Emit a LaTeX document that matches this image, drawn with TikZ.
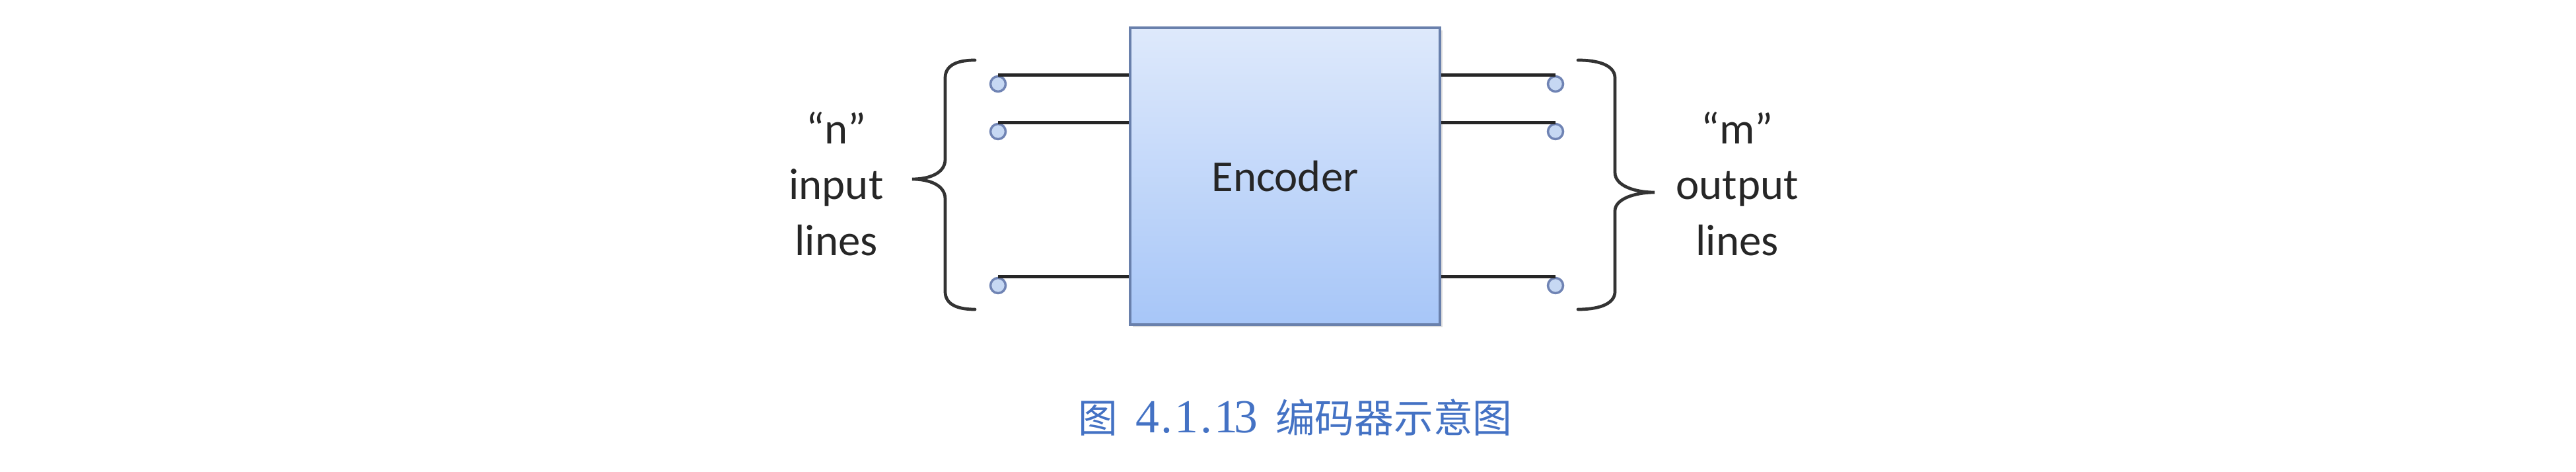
\documentclass[tikz,border=0pt]{standalone}
\usepackage{xcolor}
\usepackage{fontspec}
\setmainfont{Carlito}
\newfontfamily\cjk{Noto Sans CJK SC}
\newfontfamily\digitfont[Scale=1.2]{Liberation Serif}
\newcommand{\hw}[1]{\makebox[8.5pt]{\digitfont #1}}
\usepackage{tikz}
\usetikzlibrary{shapes,positioning,shadows}

\definecolor{boxtop}{RGB}{222,233,251}
\definecolor{boxbottom}{RGB}{167,198,248}
\definecolor{boxborder}{RGB}{105,128,172}
\definecolor{termfill}{RGB}{198,216,243}
\definecolor{termborder}{RGB}{112,132,180}
\definecolor{captionblue}{RGB}{68,114,196}

\begin{document}
\begin{tikzpicture}[>=stealth, font=\fontsize{19}{24}\selectfont]
                    % Define styles
                    \tikzstyle{block} = [rectangle, draw=boxborder, line width=1pt, top color=boxtop, bottom color=boxbottom, minimum width=4.69cm, minimum height=4.49cm, text=black!85, drop shadow={opacity=0.25, shadow xshift=0.04cm, shadow yshift=-0.04cm}]
                    \tikzstyle{terminal} = [circle, draw=termborder, fill=termfill, line width=1pt, minimum size=0.23cm, inner sep=0pt]
                    \tikzstyle{wire} = [draw, line width=1.3pt, black!85]
                    \tikzstyle{bracket} = [draw, line width=1.35pt, black!80, line cap=round]
                    \tikzstyle{sidetext} = [align=center, text=black!85, inner sep=0pt]
                    \tikzstyle{figcaption} = [text=captionblue, font=\cjk\fontsize{17}{20}\selectfont]

                    \useasboundingbox (0,0) rectangle (39,7.13);

                    % Nodes
                    \node [block] (encoder) at (19.455,4.465) {Encoder};
                    \node [terminal] (in1) at (15.11,5.86) {};
                    \node [terminal] (in2) at (15.11,5.14) {};
                    \node [terminal] (in3) at (15.11,2.81) {};
                    \node [terminal] (out1) at (23.55,5.86) {};
                    \node [terminal] (out2) at (23.55,5.14) {};
                    \node [terminal] (out3) at (23.55,2.81) {};
                    \node [sidetext] (inlabel) at (12.66,4.35) {“n”\\input\\lines};
                    \node [sidetext] (outlabel) at (26.30,4.35) {“m”\\output\\lines};
                    \node [figcaption] (title) at (19.61,0.81) {图\hspace{8.5pt}\hw{4}\hw{.}\hw{1}\hw{.}\hw{1}\hw{3}\hspace{8.5pt}编码器示意图};

                    % Wires
                    \draw [wire] (in1.north) -- (in1.north -| encoder.west);
                    \draw [wire] (in2.north) -- (in2.north -| encoder.west);
                    \draw [wire] (in3.north) -- (in3.north -| encoder.west);
                    \draw [wire] (out1.north -| encoder.east) -- (out1.north);
                    \draw [wire] (out2.north -| encoder.east) -- (out2.north);
                    \draw [wire] (out3.north -| encoder.east) -- (out3.north);

                    % Braces
                    \draw [bracket] (14.76,6.22) .. controls (14.45,6.22) and (14.31,6.12) .. (14.31,5.95) -- (14.31,4.72) .. controls (14.31,4.50) and (14.05,4.42) .. (13.81,4.42) .. controls (14.05,4.42) and (14.31,4.34) .. (14.31,4.12) -- (14.31,2.72) .. controls (14.31,2.55) and (14.45,2.45) .. (14.76,2.45);
                    \draw [bracket] (23.89,6.22) .. controls (24.25,6.22) and (24.45,6.12) .. (24.45,5.95) -- (24.45,4.52) .. controls (24.45,4.32) and (24.75,4.22) .. (25.05,4.22) .. controls (24.75,4.22) and (24.45,4.12) .. (24.45,3.94) -- (24.45,2.72) .. controls (24.45,2.55) and (24.25,2.45) .. (23.89,2.45);
                \end{tikzpicture}
\end{document}
